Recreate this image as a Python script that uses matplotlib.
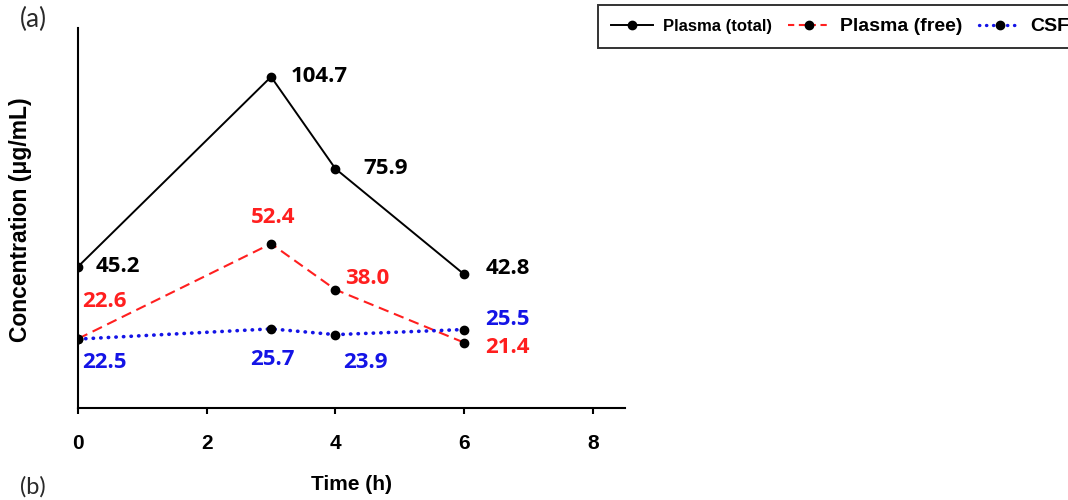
import matplotlib.pyplot as plt
from matplotlib.lines import Line2D

# data
time_h = [0, 3, 4, 6]
plasma_total = [45.2, 104.7, 75.9, 42.8]
plasma_free = [22.6, 52.4, 38.0, 21.4]
csf = [22.5, 25.7, 23.9, 25.5]
x_ticks = [0, 2, 4, 6, 8]

series_names = ["Plasma (total)", "Plasma (free)", "CSF"]

# label offsets in pixels (dx, dy) and alignment, per point
offsets_total = [(18, 0), (20, 0), (28, 0), (22, 6)]
offsets_free = [(4, 37), (2, 26), (10, 11), (21, -5)]
offsets_csf = [(4, -23), (1, -31), (30, -28), (21, 10)]
ha_total = ["left", "left", "left", "left"]
ha_free = ["left", "center", "left", "left"]
ha_csf = ["left", "center", "center", "left"]

RED = "#ff1f1f"
BLUE = "#1414e6"
label_font = dict(family="Open Sans", weight="bold", size=16)
arial_bold = dict(fontfamily="Liberation Sans", fontweight="bold")

fig = plt.figure(figsize=(10.68, 5.0), dpi=100)
ax = fig.add_axes([78 / 1068, 1 - 408 / 500, (625 - 78) / 1068, (408 - 28) / 500])

marker_kw = dict(marker="o", ms=6, mfc="black", mec="black")
ax.plot(time_h, plasma_total, color="black", lw=1.4, label=series_names[0], **marker_kw)
ax.plot(time_h, plasma_free, color=RED, lw=1.5, ls=(0, (5, 2.8)),
        label=series_names[1], **marker_kw)
ax.plot(time_h, csf, color=BLUE, lw=2.6, ls=(0, (0.1, 2.0)), dash_capstyle="round",
        label=series_names[2], **marker_kw)

for vals, offs, has, col in [
    (plasma_total, offsets_total, ha_total, "black"),
    (plasma_free, offsets_free, ha_free, RED),
    (csf, offsets_csf, ha_csf, BLUE),
]:
    for t, v, (dx, dy), ha in zip(time_h, vals, offs, has):
        ax.annotate(f"{v:.1f}", (t, v), xytext=(dx, dy), textcoords="offset pixels",
                    ha=ha, va="center", color=col, **label_font)

ax.set_xlim(0, 8.5)
ax.set_ylim(0.9, 120)
ax.set_xticks(x_ticks)
ax.set_yticks([])
for side in ["top", "right"]:
    ax.spines[side].set_visible(False)
ax.spines["left"].set_linewidth(1.5)
ax.spines["bottom"].set_linewidth(1.5)
ax.tick_params(axis="x", direction="out", length=4, width=1.5, pad=15)
for lab in ax.get_xticklabels():
    lab.set_fontfamily("Liberation Sans")
    lab.set_fontweight("bold")
    lab.set_fontsize(15)

ax.set_xlabel("Time (h)", fontsize=15, **arial_bold)
ax.xaxis.set_label_coords(0.5, -0.176)
ax.set_ylabel("Concentration (μg/mL)", fontsize=16.5, **arial_bold)
ax.yaxis.set_label_coords(-0.084, 0.495)

# panel letters; "(b)" belongs to the next panel, kept just inside the bottom edge
fig.text(20 / 1068, 1 - 19 / 500, "(a)", family="Lato", fontsize=19, va="center",
         color="#2a2a2a")
fig.text(20 / 1068, 2 / 500, "(b)", family="Lato", fontsize=17, va="bottom",
         color="#2a2a2a")

handles = [
    Line2D([], [], color="black", lw=1.4, **marker_kw),
    Line2D([], [], color=RED, lw=1.5, ls=(0, (3, 2.2)), **marker_kw),
    Line2D([], [], color=BLUE, lw=2.4, ls=(0, (0.1, 2.0)), dash_capstyle="round",
           **marker_kw),
]
leg = fig.legend(handles, series_names, loc="upper left",
                 bbox_to_anchor=(598 / 1068, 1 - 5 / 500), ncol=3, frameon=True,
                 fancybox=False, edgecolor="black", prop=dict(size=12),
                 handlelength=2.5, handletextpad=0.6, columnspacing=1.0,
                 borderpad=0.78, borderaxespad=0)
leg.get_frame().set_linewidth(1.4)
for txt, size in zip(leg.get_texts(), [12, 14, 14]):
    txt.set_fontfamily("Liberation Sans")
    txt.set_fontweight("bold")
    txt.set_fontsize(size)

fig.savefig("out.png", dpi=100)
